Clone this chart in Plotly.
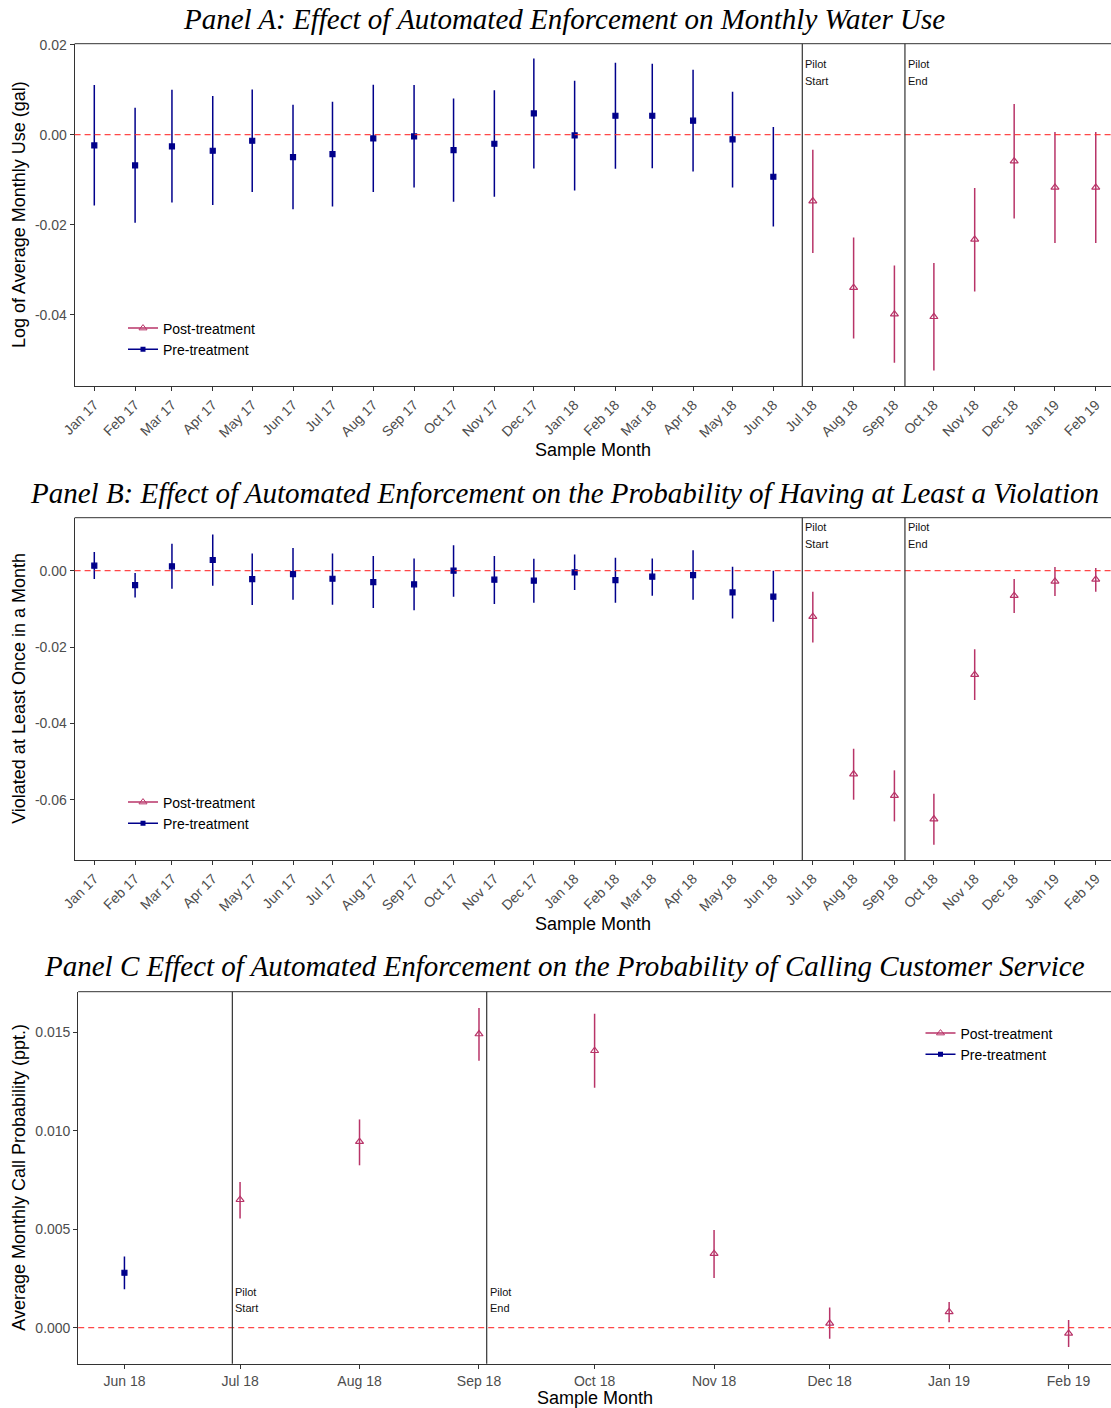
import plotly.graph_objects as go

# ---- months on the x axis -------------------------------------------------
months_ab = ["2017-01-01", "2017-02-01", "2017-03-01", "2017-04-01", "2017-05-01",
             "2017-06-01", "2017-07-01", "2017-08-01", "2017-09-01", "2017-10-01",
             "2017-11-01", "2017-12-01", "2018-01-01", "2018-02-01", "2018-03-01",
             "2018-04-01", "2018-05-01", "2018-06-01", "2018-07-01", "2018-08-01",
             "2018-09-01", "2018-10-01", "2018-11-01", "2018-12-01", "2019-01-01",
             "2019-02-01"]
labels_ab = ["Jan 17", "Feb 17", "Mar 17", "Apr 17", "May 17", "Jun 17", "Jul 17",
             "Aug 17", "Sep 17", "Oct 17", "Nov 17", "Dec 17", "Jan 18", "Feb 18",
             "Mar 18", "Apr 18", "May 18", "Jun 18", "Jul 18", "Aug 18", "Sep 18",
             "Oct 18", "Nov 18", "Dec 18", "Jan 19", "Feb 19"]
pre_months_ab = months_ab[:18]
post_months_ab = months_ab[18:]

months_c = ["2018-06-01", "2018-07-01", "2018-08-01", "2018-09-01", "2018-10-01",
            "2018-11-01", "2018-12-01", "2019-01-01", "2019-02-01"]
labels_c = ["Jun 18", "Jul 18", "Aug 18", "Sep 18", "Oct 18", "Nov 18", "Dec 18",
            "Jan 19", "Feb 19"]
pre_months_c = months_c[:1]
post_months_c = months_c[1:]

# pilot start / end markers
pilot_ab = ["2018-06-23", "2018-09-09"]
pilot_c = ["2018-06-29", "2018-09-03"]

# ---- Panel A: log of average monthly use ----------------------------------
a_pre_est = [-0.00238, -0.00683, -0.0026, -0.00357, -0.00135, -0.00498, -0.00431,
             -0.00083, -0.00038, -0.00342, -0.00201, 0.00473, -0.00017, 0.00421,
             0.00421, 0.00311, -0.00104, -0.00934]
a_pre_hi = [0.01104, 0.0060, 0.0100, 0.00859, 0.01007, 0.00666, 0.00733, 0.0111,
            0.01104, 0.00807, 0.00986, 0.01695, 0.012, 0.016, 0.01577, 0.01444,
            0.00955, 0.0017]
a_pre_lo = [-0.01572, -0.01957, -0.01505, -0.01565, -0.01276, -0.01654, -0.01594,
            -0.01276, -0.01172, -0.0149, -0.0138, -0.00749, -0.01239, -0.00757,
            -0.00743, -0.00816, -0.01172, -0.0204]
a_post_est = [-0.01475, -0.0340, -0.03988, -0.04046, -0.02328, -0.00587, -0.01172, -0.01172]
a_post_hi = [-0.00334, -0.02283, -0.02905, -0.02853, -0.01187, 0.0068, 0.00058, 0.00058]
a_post_lo = [-0.02631, -0.0453, -0.0507, -0.0524, -0.03484, -0.01861, -0.02409, -0.02409]

# ---- Panel B: violated at least once in a month ---------------------------
b_pre_est = [0.00131, -0.00376, 0.00114, 0.0028, -0.00218, -0.00087, -0.0021,
             -0.00297, -0.00358, 0.0, -0.00236, -0.00262, -0.00044, -0.00245,
             -0.00157, -0.00114, -0.00568, -0.00681]
b_pre_hi = [0.00489, -0.00061, 0.00707, 0.00952, 0.00454, 0.00594, 0.00454, 0.00384,
            0.00323, 0.00664, 0.00384, 0.00314, 0.00428, 0.00341, 0.00323, 0.00533,
            0.00105, 0.0]
b_pre_lo = [-0.00218, -0.00699, -0.00472, -0.00393, -0.009, -0.0076, -0.00891,
            -0.00978, -0.01039, -0.00681, -0.00873, -0.00838, -0.00507, -0.00838,
            -0.00655, -0.0076, -0.01249, -0.01336]
b_post_est = [-0.01205, -0.05328, -0.05895, -0.06507, -0.02725, -0.00655, -0.0028, -0.00227]
b_post_hi = [-0.0055, -0.04664, -0.05231, -0.05843, -0.02061, -0.00218, 0.00096, 0.0007]
b_post_lo = [-0.01878, -0.06, -0.06568, -0.07179, -0.03389, -0.01109, -0.00664, -0.0055]

# ---- Panel C: monthly call probability ------------------------------------
c_pre_est = [0.00279]
c_pre_hi = [0.00362]
c_pre_lo = [0.00195]
c_post_est = [0.0065, 0.00945, 0.01492, 0.01407, 0.00376, 0.00022, 0.0008, -0.00029]
c_post_hi = [0.0074, 0.01058, 0.01624, 0.01595, 0.00496, 0.00103, 0.0013, 0.00039]
c_post_lo = [0.00555, 0.00825, 0.01356, 0.01219, 0.00252, -0.00056, 0.00027, -0.00098]

# ---- tick labels for the y axes ------------------------------------------
a_yticks = [-0.04, -0.02, 0.0, 0.02]
a_ylabels = ["-0.04", "-0.02", "0.00", "0.02"]
b_yticks = [-0.06, -0.04, -0.02, 0.0]
b_ylabels = ["-0.06", "-0.04", "-0.02", "0.00"]
c_yticks = [0.0, 0.005, 0.010, 0.015]
c_ylabels = ["0.000", "0.005", "0.010", "0.015"]

titles = ["Panel A: Effect of Automated Enforcement on Monthly Water Use",
          "Panel B: Effect of Automated Enforcement on the Probability of Having at Least a Violation",
          "Panel C Effect of Automated Enforcement on the Probability of Calling Customer Service"]
y_titles = ["Log of Average Monthly Use (gal)",
            "Violated at Least Once in a Month",
            "Average Monthly Call Probability (ppt.)"]
x_title = "Sample Month"
series_names = ["Post-treatment", "Pre-treatment"]

# ---- styling --------------------------------------------------------------
W, H = 1111, 1408
PRE_COL = "#00008B"
POST_COL = "#B83468"
AXIS_COL = "#333333"
TICK_FONT = dict(family="Liberation Sans, Arial, sans-serif", size=14, color="#4D4D4D")
SANS = "Liberation Sans, Arial, sans-serif"
SERIF = "Liberation Serif, Times New Roman, serif"


def px(x):
    return x / W


def py(y):
    return 1 - y / H


fig = go.Figure()


def add_series(xs, est, lo, hi, name, ax, color, symbol, size):
    fig.add_trace(go.Scatter(
        x=xs, y=est, mode="markers", name=name, showlegend=False,
        xaxis=ax[0], yaxis=ax[1],
        marker=dict(color=color, symbol=symbol, size=size,
                    line=dict(color=color, width=1.2)),
        error_y=dict(type="data", symmetric=False,
                     array=[h - e for h, e in zip(hi, est)],
                     arrayminus=[e - l for e, l in zip(est, lo)],
                     color=color, thickness=1.5, width=0),
    ))


def add_legend(ax, legend_id):
    # legend entries drawn as line + marker glyphs
    fig.add_trace(go.Scatter(
        x=[None], y=[None], mode="lines+markers", name=series_names[0],
        xaxis=ax[0], yaxis=ax[1], legend=legend_id,
        line=dict(color=POST_COL, width=1.5),
        marker=dict(color=POST_COL, symbol="triangle-up-open", size=7)))
    fig.add_trace(go.Scatter(
        x=[None], y=[None], mode="lines+markers", name=series_names[1],
        xaxis=ax[0], yaxis=ax[1], legend=legend_id,
        line=dict(color=PRE_COL, width=1.5),
        marker=dict(color=PRE_COL, symbol="square", size=5)))


panels = [
    dict(ax=("x", "y"), xs=(pre_months_ab, post_months_ab),
         pre=(a_pre_est, a_pre_lo, a_pre_hi), post=(a_post_est, a_post_lo, a_post_hi),
         legend="legend"),
    dict(ax=("x2", "y2"), xs=(pre_months_ab, post_months_ab),
         pre=(b_pre_est, b_pre_lo, b_pre_hi), post=(b_post_est, b_post_lo, b_post_hi),
         legend="legend2"),
    dict(ax=("x3", "y3"), xs=(pre_months_c, post_months_c),
         pre=(c_pre_est, c_pre_lo, c_pre_hi), post=(c_post_est, c_post_lo, c_post_hi),
         legend="legend3"),
]

for p in panels:
    add_legend(p["ax"], p["legend"])
    add_series(p["xs"][0], *p["pre"], series_names[1], p["ax"], PRE_COL, "square", 5)
    add_series(p["xs"][1], *p["post"], series_names[0], p["ax"], POST_COL,
               "triangle-up-open", 7)

# panel frames in pixel space: (left, top, bottom)
frames = [(74.6, 43.7, 386.3), (74.6, 517.7, 860.0), (78.2, 991.7, 1363.7)]
x_ranges = [["2016-12-17 00:40", "2019-02-12 14:00"],
            ["2016-12-17 00:40", "2019-02-12 14:00"],
            ["2018-05-20 00:00", "2019-02-12 00:00"]]
y_ranges = [[-0.05591, 0.02022], [-0.0758, 0.01389], [-0.00183, 0.01707]]
y_ticks = [(a_yticks, a_ylabels), (b_yticks, b_ylabels), (c_yticks, c_ylabels)]
x_ticks = [(months_ab, labels_ab, -45), (months_ab, labels_ab, -45), (months_c, labels_c, 0)]
# pixel rows of the "Pilot" / second-word labels and of the x-axis titles
pilot_rows = [(64.0, 81.0), (527.0, 544.0), (1291.7, 1308.3)]
xtitle_rows = [450.0, 924.0, 1398.0]

layout = dict(
    width=W, height=H, margin=dict(l=0, r=0, t=0, b=0, autoexpand=False),
    paper_bgcolor="white", plot_bgcolor="white", showlegend=True,
)

shapes = []
annotations = []
for i, (fr, xr, yr, yt, xt) in enumerate(zip(frames, x_ranges, y_ranges, y_ticks, x_ticks)):
    sfx = "" if i == 0 else str(i + 1)
    left, top, bottom = fr
    layout["xaxis" + sfx] = dict(
        type="date", range=xr, domain=[px(left), 1.0], anchor="y" + sfx,
        tickmode="array", tickvals=xt[0], ticktext=xt[1], tickangle=xt[2],
        ticks="outside", ticklen=4, tickwidth=1, tickcolor=AXIS_COL,
        showline=True, linecolor=AXIS_COL, linewidth=1, automargin=False,
        showgrid=False, zeroline=False, tickfont=TICK_FONT,
    )
    layout["yaxis" + sfx] = dict(
        range=yr, domain=[py(bottom), py(top)], anchor="x" + sfx,
        tickmode="array", tickvals=yt[0], ticktext=yt[1],
        ticks="outside", ticklen=4, tickwidth=1, tickcolor=AXIS_COL,
        showline=True, linecolor=AXIS_COL, linewidth=1, automargin=False,
        showgrid=False, zeroline=False, tickfont=TICK_FONT,
    )
    xref, yref = "x" + sfx, "y" + sfx
    # top border of the panel
    shapes.append(dict(type="line", xref=xref + " domain", yref=yref + " domain",
                       x0=0, x1=1, y0=1, y1=1, line=dict(color=AXIS_COL, width=1)))
    # zero reference
    shapes.append(dict(type="line", xref=xref + " domain", yref=yref,
                       x0=0, x1=1, y0=0, y1=0,
                       line=dict(color="rgba(255,40,40,0.85)", width=1.3, dash="6px,4px")))
    # pilot start / end
    pilot = pilot_c if i == 2 else pilot_ab
    for d in pilot:
        shapes.append(dict(type="line", xref=xref, yref=yref + " domain",
                           x0=d, x1=d, y0=0, y1=1, line=dict(color=AXIS_COL, width=1.2)))
    # pilot labels
    ly1, ly2 = pilot_rows[i]
    for d, word in zip(pilot, ["Start", "End"]):
        for yy, txt in ((ly1, "Pilot"), (ly2, word)):
            annotations.append(dict(
                x=d, xref=xref, y=py(yy), yref="paper", text=txt, showarrow=False,
                xanchor="left", yanchor="middle", xshift=1,
                font=dict(family=SANS, size=11, color="#111111")))
    # axis titles
    annotations.append(dict(
        x=0.5, xref=xref + " domain", y=py(xtitle_rows[i]), yref="paper", text=x_title,
        showarrow=False, xanchor="center", yanchor="middle",
        font=dict(family=SANS, size=18, color="black")))
    annotations.append(dict(
        x=px(19), xref="paper", y=py((top + bottom) / 2), yref="paper", text=y_titles[i],
        showarrow=False, xanchor="center", yanchor="middle", textangle=-90,
        font=dict(family=SANS, size=18, color="black")))

# panel titles
for yy, t in zip([19.0, 493.0, 966.0], titles):
    annotations.append(dict(
        x=px(564), xref="paper", y=py(yy), yref="paper", text="<i>" + t + "</i>",
        showarrow=False, xanchor="center", yanchor="middle",
        font=dict(family=SERIF, size=29, color="black")))

legend_style = dict(font=dict(family=SANS, size=14, color="black"),
                    bgcolor="rgba(0,0,0,0)", traceorder="normal",
                    xanchor="left", yanchor="middle", itemwidth=30,
                    tracegroupgap=0)
layout["legend"] = dict(x=px(123), y=py(339), **legend_style)
layout["legend2"] = dict(x=px(123), y=py(813), **legend_style)
layout["legend3"] = dict(x=px(920.5), y=py(1044), **legend_style)
layout["shapes"] = shapes
layout["annotations"] = annotations

fig.update_layout(**layout)
fig.write_html("out.html")
